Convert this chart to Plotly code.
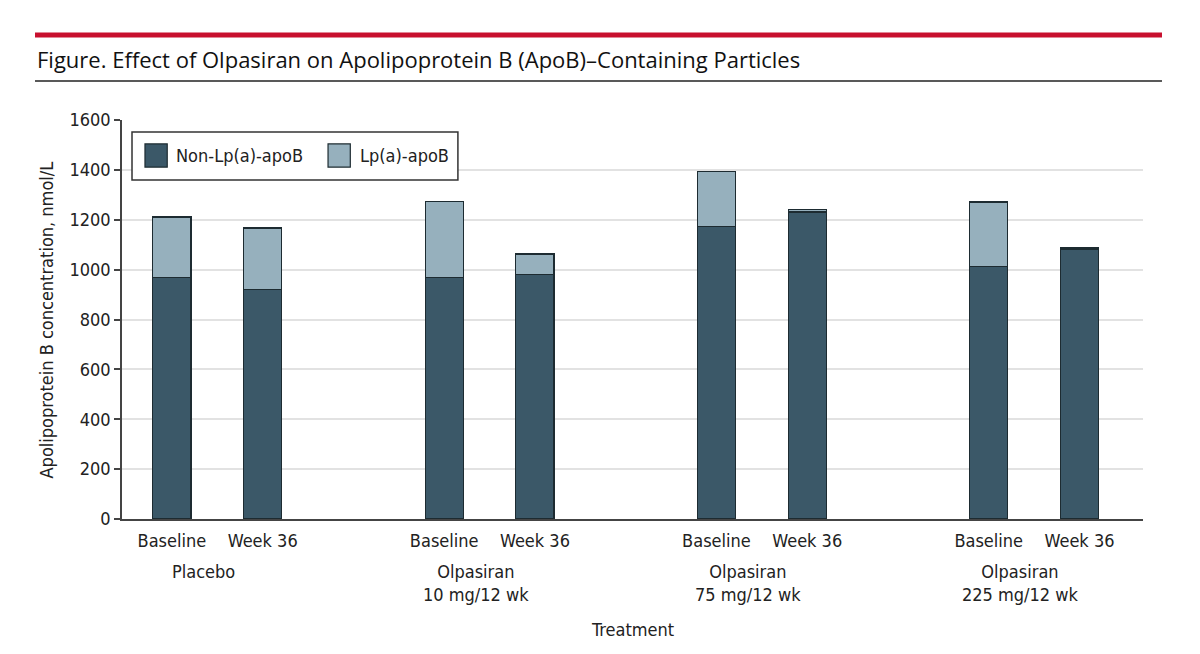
import plotly.graph_objects as go

# Data
groups = ['Placebo', 'Olpasiran<br>10 mg/12 wk', 'Olpasiran<br>75 mg/12 wk', 'Olpasiran<br>225 mg/12 wk']
timepoints = ['Baseline', 'Week 36']
series_names = ['Non-Lp(a)-apoB', 'Lp(a)-apoB']
non_lpa_apob = [968, 920, 968, 980, 1173, 1231, 1011, 1083]
lpa_apob = [243, 247, 304, 83, 220, 11, 260, 7]
y_ticks = [0, 200, 400, 600, 800, 1000, 1200, 1400, 1600]

# x positions: two bars per group, one empty slot between groups
positions = [g * 3 + t for g in range(len(groups)) for t in range(len(timepoints))]
bar_labels = [timepoints[t] for g in range(len(groups)) for t in range(len(timepoints))]

dark = '#3b5868'
light = '#96b0bd'
edge = '#1d2b31'
text_col = '#222'
font_chart = 'Liberation Sans Narrow, DejaVu Sans Condensed, sans-serif'
fs = 18

fig = go.Figure()
fig.add_trace(go.Bar(
    x=positions, y=non_lpa_apob, name=series_names[0],
    marker=dict(color=dark, line=dict(color=edge, width=1.2)),
    width=0.42
))
fig.add_trace(go.Bar(
    x=positions, y=lpa_apob, name=series_names[1],
    marker=dict(color=light, line=dict(color=edge, width=1.2)),
    width=0.42
))

fig.update_xaxes(
    range=[-0.55, 10.7],
    tickmode='array', tickvals=positions, ticktext=bar_labels,
    tickfont=dict(size=fs, color=text_col, family=font_chart),
    showline=True, linecolor='#444', linewidth=1.5,
    showgrid=False, zeroline=False, ticks='', ticklabelstandoff=5
)
fig.update_yaxes(
    range=[0, 1600], tickvals=y_ticks,
    tickfont=dict(size=fs, color=text_col, family=font_chart),
    showline=True, linecolor='#444', linewidth=1.5,
    ticks='outside', ticklen=6, tickcolor='#444', tickwidth=1.5,
    showgrid=True, gridcolor='#e2e2e2', gridwidth=1.5, zeroline=False
)

annotations = []
for g, label in enumerate(groups):
    annotations.append(dict(
        text=label, x=g * 3 + 0.5 - 0.15, xref='x', y=-0.101, yref='paper',
        showarrow=False, xanchor='center', yanchor='top', align='center',
        font=dict(size=fs, color=text_col, family=font_chart)
    ))
annotations.append(dict(
    text='Treatment', x=0.5, xref='paper', y=-0.277, yref='paper',
    showarrow=False, xanchor='center', yanchor='middle',
    font=dict(size=fs, color=text_col, family=font_chart)
))
annotations.append(dict(
    text='Apolipoprotein B concentration, nmol/L', textangle=-90,
    x=-0.0735, xref='paper', y=0.5, yref='paper',
    showarrow=False, xanchor='center', yanchor='middle',
    font=dict(size=fs, color=text_col, family=font_chart)
))
annotations.append(dict(
    text='Figure. Effect of Olpasiran on Apolipoprotein B (ApoB)–Containing Particles',
    x=-0.0852, xref='paper', y=1.153, yref='paper',
    showarrow=False, xanchor='left', yanchor='middle',
    font=dict(size=22, color='#111', family='Open Sans, sans-serif')
))

shapes = [
    dict(type='line', xref='paper', yref='paper', x0=-0.0852, x1=1.0186, y0=1.213, y1=1.213,
         line=dict(color='#c8102e', width=5)),
    dict(type='line', xref='paper', yref='paper', x0=-0.0852, x1=1.0186, y0=1.098, y1=1.098,
         line=dict(color='#222', width=1.5)),
    # legend box
    dict(type='rect', xref='paper', yref='paper', x0=0.0098, x1=0.329, y0=0.8496, y1=0.970,
         line=dict(color='#333', width=1.5), fillcolor='white', layer='above'),
]

# hand-built legend, swatches are larger than plotly's own
legend_items = [(series_names[0], dark, 0.0225, 0.0509), (series_names[1], light, 0.2018, 0.2311)]
for name, color, sx, tx in legend_items:
    shapes.append(dict(type='rect', xref='paper', yref='paper', x0=sx, x1=sx + 0.0218,
                       y0=0.882, y1=0.940, line=dict(color=edge, width=1.2),
                       fillcolor=color, layer='above'))
    annotations.append(dict(
        text=name, x=tx, xref='paper', y=0.911, yref='paper',
        showarrow=False, xanchor='left', yanchor='middle',
        font=dict(size=fs, color=text_col, family=font_chart)
    ))

# page body adds an 8px offset, so margins are shifted to compensate
fig.update_layout(
    barmode='stack',
    width=1200, height=654,
    margin=dict(l=114, r=65, t=112, b=143),
    plot_bgcolor='white', paper_bgcolor='white',
    annotations=annotations, shapes=shapes,
    showlegend=False
)

fig.write_html('out.html')
